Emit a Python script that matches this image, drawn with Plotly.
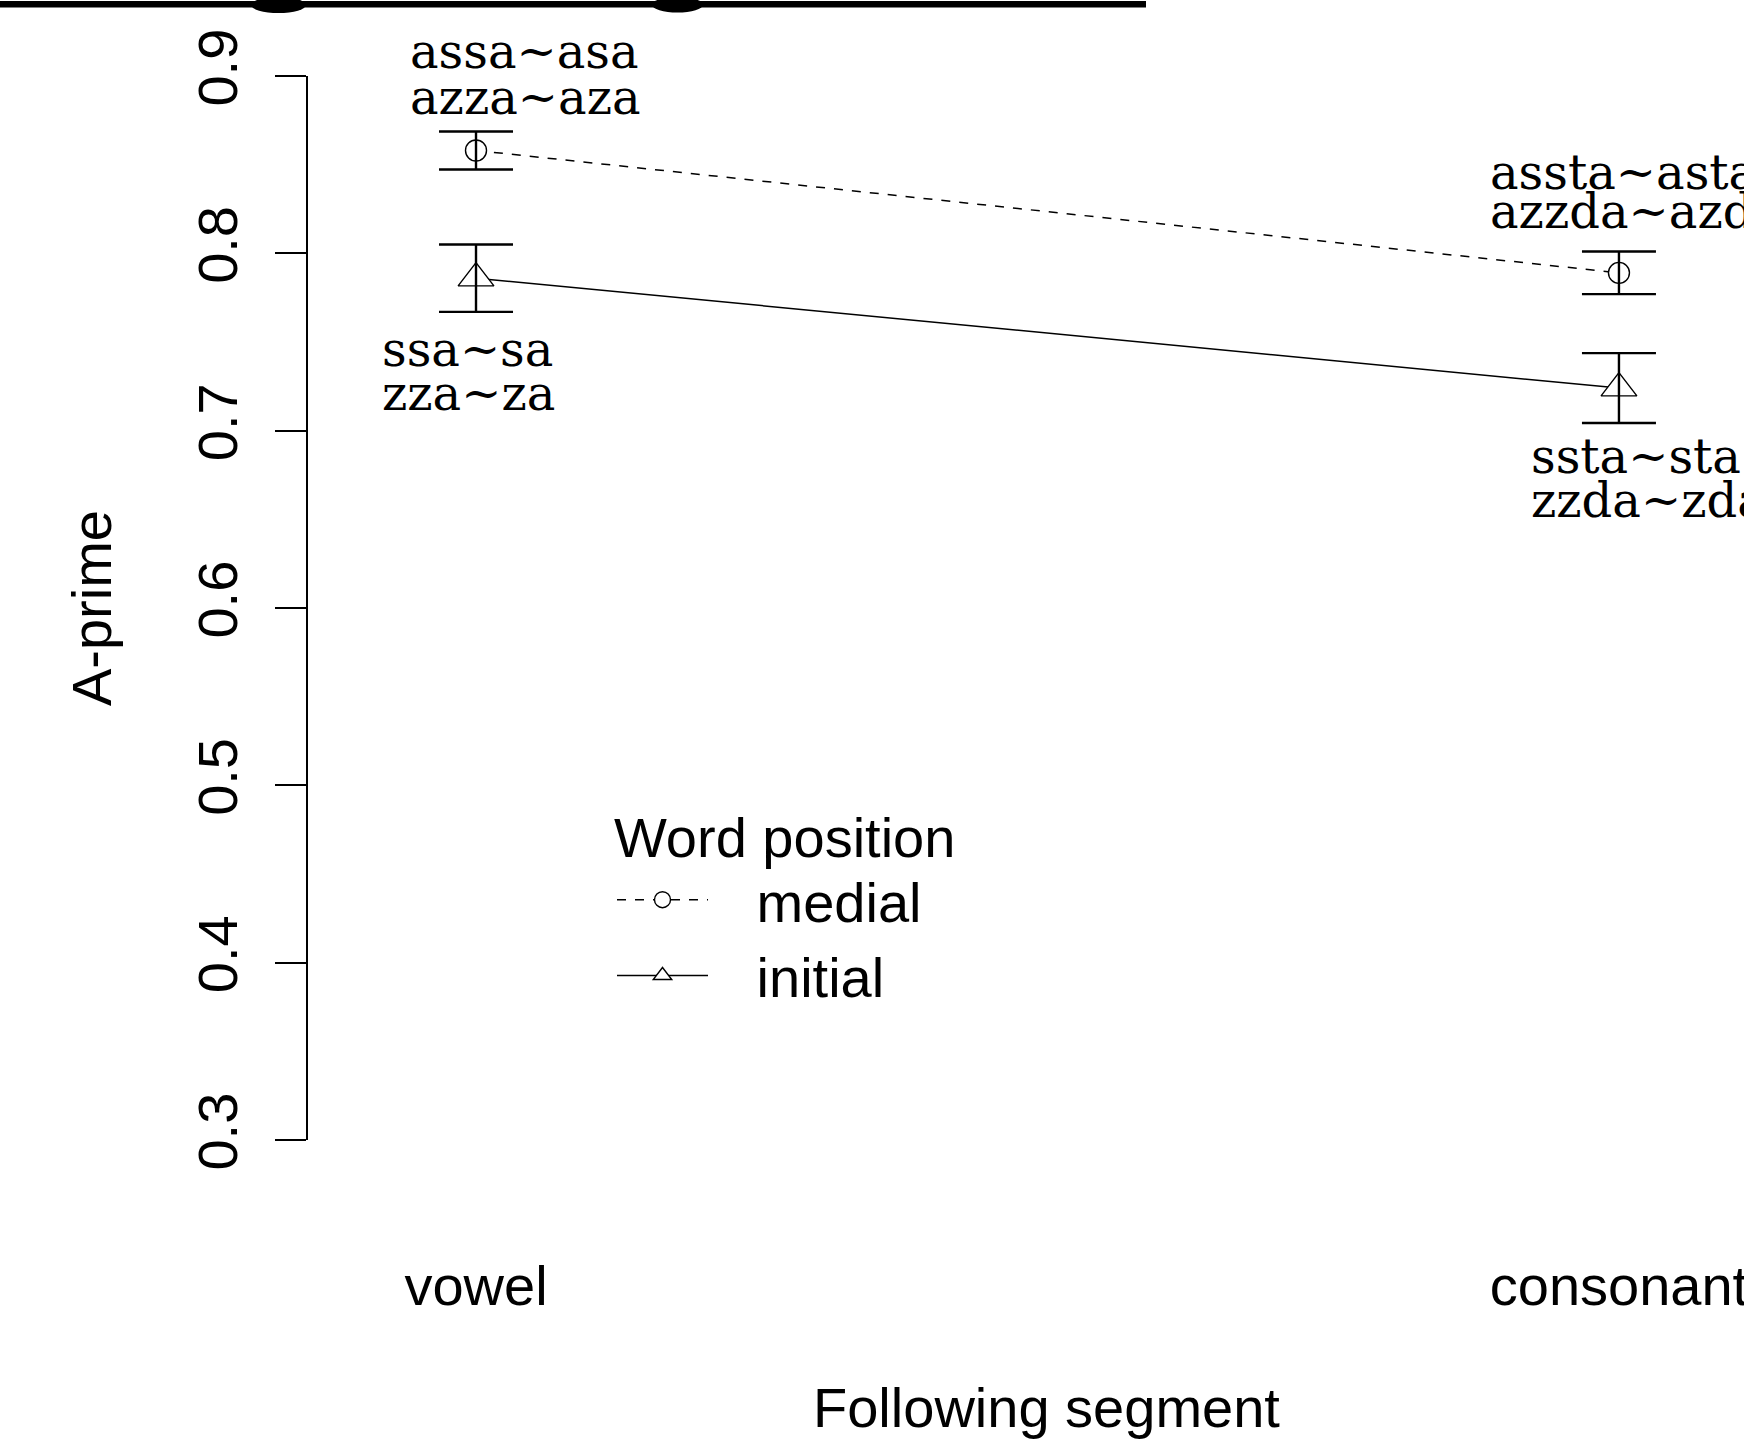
import plotly.graph_objects as go

# ---- data ----
categories = ["vowel", "consonant"]
cat_pos = [1, 2]
medial_mean = [0.858, 0.789]
medial_se = [0.0107, 0.0120]
initial_mean = [0.786, 0.724]
initial_se = [0.019, 0.0197]
medial_labels = [["assa~asa", "azza~aza"], ["assta~asta", "azzda~azda"]]
initial_labels = [["ssa~sa", "zza~za"], ["ssta~sta", "zzda~zda"]]
y_ticks = [0.3, 0.4, 0.5, 0.6, 0.7, 0.8, 0.9]
series_names = ["medial", "initial"]

SANS = "Liberation Sans, Arial, sans-serif"
SERIF = "DejaVu Serif, serif"
PAD = "\u2002\u00a0"

fig = go.Figure()

# lines + markers
fig.add_trace(go.Scatter(
    x=cat_pos, y=medial_mean, mode="lines+markers", name=PAD + series_names[0],
    line=dict(color="black", width=1.5, dash="dash"),
    marker=dict(symbol="circle", size=21, color="white", line=dict(color="black", width=1.4)),
))
fig.add_trace(go.Scatter(
    x=cat_pos, y=initial_mean, mode="lines+markers", name=PAD + series_names[1],
    line=dict(color="black", width=1.5),
    marker=dict(symbol="triangle-up", size=31, color="white", line=dict(color="black", width=1.4)),
))
# error bars on top
for means, ses in [(medial_mean, medial_se), (initial_mean, initial_se)]:
    fig.add_trace(go.Scatter(
        x=cat_pos, y=means, mode="markers", showlegend=False, hoverinfo="skip",
        marker=dict(size=1, color="rgba(0,0,0,0)"),
        error_y=dict(type="data", array=ses, visible=True, color="black", thickness=2.4, width=37),
    ))

annotations = []
med_shift = [(-68, [99, 53]), (-131, [101, 62])]
ini_shift = [(-96, [-71, -115]), (-90, [-68, -112])]
for i in range(2):
    xs, ys = med_shift[i]
    for line, ysh in zip(medial_labels[i], ys):
        annotations.append(dict(x=cat_pos[i], y=medial_mean[i], text=line, showarrow=False,
                                xanchor="left", yanchor="middle", xshift=xs, yshift=ysh,
                                font=dict(family=SERIF, size=48, color="black")))
    xs, ys = ini_shift[i]
    for line, ysh in zip(initial_labels[i], ys):
        annotations.append(dict(x=cat_pos[i], y=initial_mean[i], text=line, showarrow=False,
                                xanchor="left", yanchor="middle", xshift=xs, yshift=ysh,
                                font=dict(family=SERIF, size=48, color="black")))

# x axis title
annotations.append(dict(xref="paper", yref="paper", x=0.514, y=(1140 - 1407) / 1064,
                        text="Following segment", showarrow=False, xanchor="center", yanchor="middle",
                        font=dict(family=SANS, size=56, color="black")))

def px_x(p):
    return (p - 308) / 1436

def px_y(p):
    return (1140 - p) / 1064

shapes = []
# clipped heading: descender tails under the underline bar
for a, b, bottom in [(251, 306, 13), (652, 703, 12.5)]:
    shapes.append(dict(type="circle", xref="paper", yref="paper", x0=px_x(a), x1=px_x(b),
                       y0=px_y(bottom), y1=px_y(-3), fillcolor="black", line=dict(width=0)))
shapes.append(dict(type="rect", xref="paper", yref="paper", x0=px_x(0), x1=px_x(1146),
                   y0=px_y(7.5), y1=px_y(1), fillcolor="black", line=dict(width=0)))

fig.update_layout(
    width=1744, height=1444,
    margin=dict(l=308, r=0, t=76, b=304, autoexpand=False),
    paper_bgcolor="white", plot_bgcolor="white",
    font=dict(family=SANS, color="black"),
    xaxis=dict(range=[0.853, 2.1094], tickvals=cat_pos, ticktext=categories, ticks="",
               showline=False, showgrid=False, zeroline=False, automargin=False,
               ticklabeloverflow="allow",
               tickfont=dict(family=SANS, size=56, color="black"), ticklabelstandoff=108),
    yaxis=dict(range=[0.3, 0.9], tickvals=y_ticks, ticks="outside", ticklen=31, tickwidth=1.5,
               tickcolor="black", showline=True, linewidth=1.5, linecolor="black",
               showgrid=False, zeroline=False, automargin=False, tickangle=-90,
               tickfont=dict(family=SANS, size=56, color="black"), ticklabelstandoff=16,
               title=dict(text="A-prime", font=dict(family=SANS, size=56, color="black"), standoff=56)),
    legend=dict(x=px_x(612), xanchor="left", y=px_y(784), yanchor="top",
                bgcolor="rgba(0,0,0,0)", font=dict(family=SANS, size=56, color="black"),
                title=dict(text="Word position", font=dict(family=SANS, size=56, color="black")),
                itemwidth=91, tracegroupgap=0),
    annotations=annotations,
    shapes=shapes,
    showlegend=True,
)

fig.write_html("out.html", config={"displayModeBar": False},
               post_script="document.body.style.margin='0';")
